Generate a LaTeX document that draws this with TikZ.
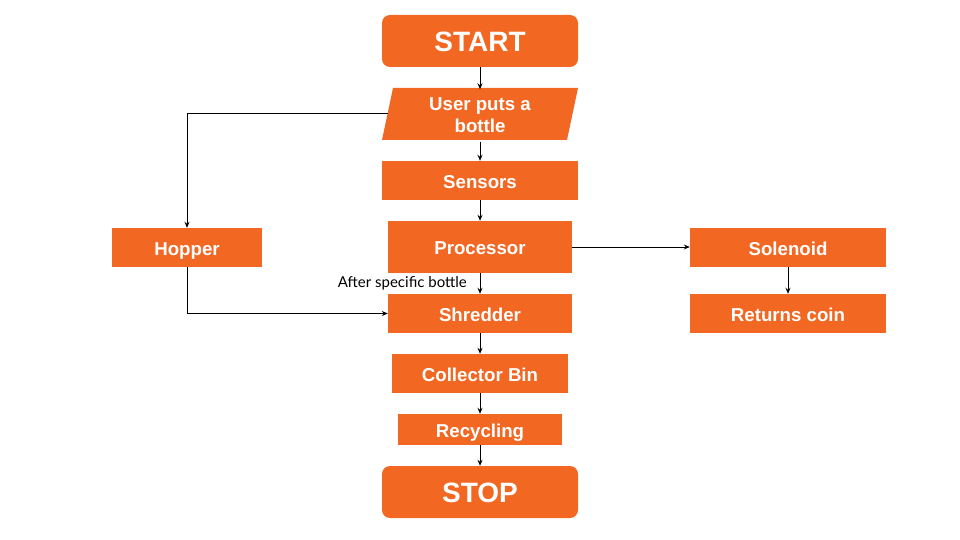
\documentclass[tikz,border=0pt]{standalone}
\usepackage{fontspec}
\setmainfont{Liberation Sans}
\newfontfamily\latofont{Lato}
\usetikzlibrary{arrows.meta}
\definecolor{boxorange}{HTML}{F26722}
\begin{document}
\begin{tikzpicture}[x=1pt,y=-1pt,
  box/.style={fill=boxorange, text=white, font=\fontsize{18.67}{22}\selectfont\bfseries, inner sep=0pt, anchor=center, align=center},
  onebox/.style={box, text height=15.4pt, text depth=0pt},
  term/.style={box, rounded corners=8pt, font=\fontsize{28}{32}\selectfont\bfseries, text height=21.6pt, text depth=0pt},
  conn/.style={draw=black, line width=1pt, -{Stealth[length=6pt,width=5pt]}},
  lbl/.style={font=\latofont\fontsize{15}{17}\selectfont, text=black, inner sep=0pt}
]
\useasboundingbox (0,0) rectangle (960,540);
\node[term, minimum width=196pt, minimum height=52pt] (start) at (480,41) {START};
\fill[boxorange] (393,88) -- (578,88) -- (567,140) -- (382,140) -- cycle;
\node[box, fill=none, minimum width=185pt, minimum height=52pt] (user) at (480,115.5) {User puts a\\bottle};
\coordinate (userL) at (387.5,114);
\node[onebox, minimum width=196pt, minimum height=39pt] (sensors) at (480,180.5) {Sensors};
\node[onebox, minimum width=184pt, minimum height=52pt] (proc) at (480,247) {Processor};
\node[onebox, minimum width=184pt, minimum height=39pt] (shred) at (480,313.5) {Shredder};
\node[onebox, minimum width=150pt, minimum height=39pt] (hopper) at (187,247.5) {Hopper};
\node[onebox, minimum width=196pt, minimum height=39pt] (sol) at (788,247.5) {Solenoid};
\node[onebox, minimum width=196pt, minimum height=39pt] (coin) at (788,313.5) {Returns coin};
\node[onebox, minimum width=176pt, minimum height=39pt] (bin) at (480,373.5) {Collector Bin};
\node[onebox, minimum width=164pt, minimum height=31pt] (recyc) at (480,429.5) {Recycling};
\node[term, minimum width=196pt, minimum height=52pt] (stop) at (480,492) {STOP};
\node[lbl, anchor=east] (after) at (467,283) {After specific bottle};
\draw[conn] (start) -- (user);
\draw[conn] (user) -- (sensors);
\draw[conn] (sensors) -- (proc);
\draw[conn] (proc) -- (shred);
\draw[conn] (shred) -- (bin);
\draw[conn] (bin) -- (recyc);
\draw[conn] (recyc) -- (stop);
\draw[conn] (userL) -| (hopper.north);
\draw[conn] (hopper.south) |- (shred.west);
\draw[conn] (proc.east) -- (proc.east -| sol.west);
\draw[conn] (sol) -- (coin);
\end{tikzpicture}
\end{document}
